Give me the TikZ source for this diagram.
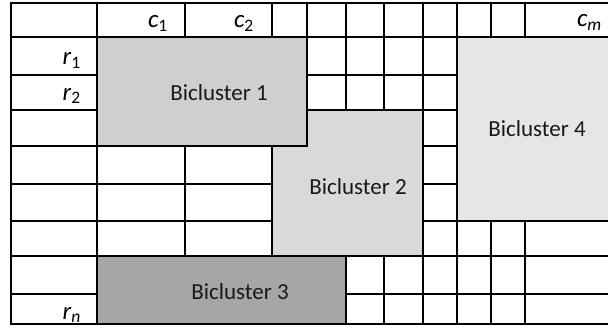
\documentclass[tikz,border=0pt]{standalone}
\usepackage{fontspec}
\setmainfont{Carlito}
\definecolor{bcone}{HTML}{D0CECE}
\definecolor{bctwo}{HTML}{D9D9D9}
\definecolor{bcthree}{HTML}{A6A6A6}
\definecolor{bcfour}{HTML}{E7E6E6}
\tikzset{
  gridline/.style={line width=1.3pt, line cap=rect},
  bctext/.style={font=\fontsize{23}{27}\selectfont, text=black!90, inner sep=0pt},
  lab/.style={font=\fontsize{25}{29}\selectfont, anchor=base east, inner sep=0pt}
}
\newcommand{\labc}[2]{\textit{#1}\textsubscript{#2}}
\begin{document}
\begin{tikzpicture}[x=1pt,y=-1pt]
\useasboundingbox (0,0) rectangle (608,329);
% columns
\def\xa{11}\def\xb{97}\def\xc{185}\def\xd{272}\def\xe{307}\def\xf{346}
\def\xg{384}\def\xh{423}\def\xi{457}\def\xj{491}\def\xk{525}\def\xr{608}
% rows
\def\ya{3}\def\yb{37}\def\yc{75}\def\yd{110}\def\ye{146}\def\yf{184}
\def\yg{221}\def\yh{256}\def\yi{294}\def\yj{324}
% bicluster fills
\fill[bctwo] (\xd,\yd) rectangle (\xh,\yh);
\fill[bcone] (\xb,\yb) rectangle (\xe,\ye);
\fill[bcfour] (\xi,\yb) rectangle (\xr+5,\yg);
\fill[bcthree] (\xb,\yh) rectangle (\xf,\yj);
% horizontal lines
\draw[gridline] (\xa,\ya) -- (\xr+5,\ya);
\draw[gridline] (\xa,\yb) -- (\xr+5,\yb);
\draw[gridline] (\xa,\yc) -- (\xb,\yc) (\xe,\yc) -- (\xi,\yc);
\draw[gridline] (\xa,\yd) -- (\xb,\yd) (\xe,\yd) -- (\xi,\yd);
\draw[gridline] (\xa,\ye) -- (\xe,\ye) (\xh,\ye) -- (\xi,\ye);
\draw[gridline] (\xa,\yf) -- (\xd,\yf) (\xh,\yf) -- (\xi,\yf);
\draw[gridline] (\xa,\yg) -- (\xd,\yg) (\xh,\yg) -- (\xr+5,\yg);
\draw[gridline] (\xa,\yh) -- (\xr+5,\yh);
\draw[gridline] (\xa,\yi) -- (\xb,\yi) (\xf,\yi) -- (\xr+5,\yi);
\draw[gridline] (\xa,\yj) -- (\xr+5,\yj);
% vertical lines
\draw[gridline] (\xa,\ya) -- (\xa,\yj);
\draw[gridline] (\xb,\ya) -- (\xb,\yj);
\draw[gridline] (\xc,\ya) -- (\xc,\yb) (\xc,\ye) -- (\xc,\yh);
\draw[gridline] (\xd,\ya) -- (\xd,\yb) (\xd,\ye) -- (\xd,\yh);
\draw[gridline] (\xe,\ya) -- (\xe,\ye);
\draw[gridline] (\xf,\ya) -- (\xf,\yd) (\xf,\yh) -- (\xf,\yj);
\draw[gridline] (\xg,\ya) -- (\xg,\yd) (\xg,\yh) -- (\xg,\yj);
\draw[gridline] (\xh,\ya) -- (\xh,\yj);
\draw[gridline] (\xi,\ya) -- (\xi,\yj);
\draw[gridline] (\xj,\ya) -- (\xj,\yb) (\xj,\yg) -- (\xj,\yj);
\draw[gridline] (\xk,\ya) -- (\xk,\yb) (\xk,\yg) -- (\xk,\yj);
% bicluster labels
\node[bctext] (b1) at (219,93) {Bicluster 1};
\node[bctext] (b2) at (358,187) {Bicluster 2};
\node[bctext] (b3) at (240,292) {Bicluster 3};
\node[bctext] (b4) at (537,129) {Bicluster 4};
% row/column labels
\node[lab] (c1) at (168,28) {\labc{c}{1}};
\node[lab] (c2) at (254,28) {\labc{c}{2}};
\node[lab] (cm) at (602,27) {\labc{c}{\textit{m}}};
\node[lab] (r1) at (81,65) {\labc{r}{1}};
\node[lab] (r2) at (81,100) {\labc{r}{2}};
\node[lab] (rn) at (81,319) {\labc{r}{\textit{n}}};
\end{tikzpicture}
\end{document}
